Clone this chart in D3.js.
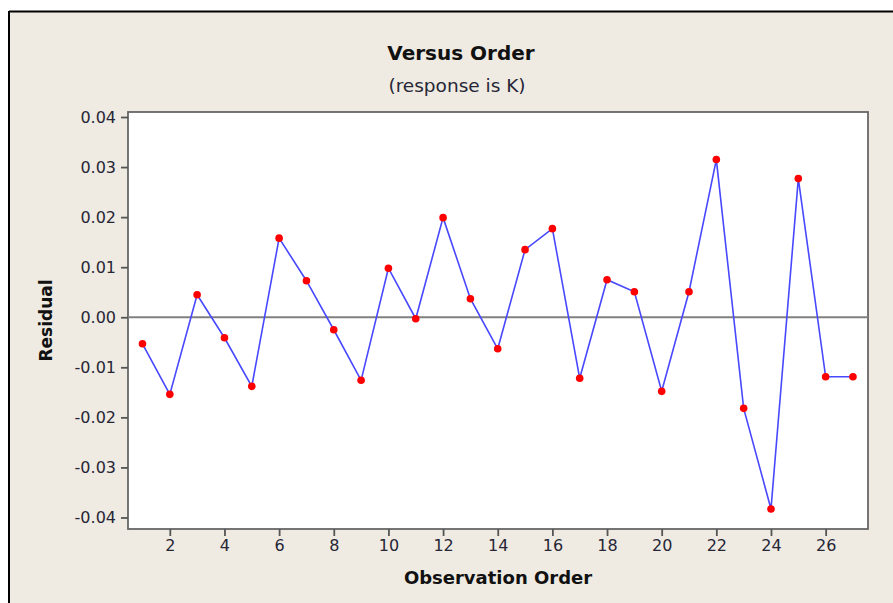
<!DOCTYPE html>
<html>
<head>
<meta charset="utf-8">
<script src="https://cdn.jsdelivr.net/npm/d3@7"></script>
<style>
  html, body { margin: 0; padding: 0; background: #ffffff; }
  svg { display: block; }
</style>
</head>
<body>
<svg id="chart" width="893" height="603"></svg>
<script>
// ---- data ----
const observationOrder = [1,2,3,4,5,6,7,8,9,10,11,12,13,14,15,16,17,18,19,20,21,22,23,24,25,26,27];
const residuals = [-0.0053,-0.0154,0.0045,-0.0041,-0.0138,0.0158,0.0073,-0.0025,-0.0126,0.0098,-0.0003,
                   0.0199,0.0037,-0.0063,0.0135,0.0177,-0.0122,0.0075,0.0051,-0.0148,0.0051,0.0315,
                   -0.0182,-0.0383,0.0277,-0.0119,-0.0119];
const xTicks = [2,4,6,8,10,12,14,16,18,20,22,24,26];
const yTicks = [-0.04,-0.03,-0.02,-0.01,0.00,0.01,0.02,0.03,0.04];
const titleText = "Versus Order";
const subtitleText = "(response is K)";
const xLabelText = "Observation Order";
const yLabelText = "Residual";

// ---- layout ----
const svg = d3.select("#chart");
const W = 893, H = 603;
const plot = {left: 128, right: 868, top: 112, bottom: 529};
const font = "'DejaVu Sans', Verdana, sans-serif";
const textColor = "#262636";

// background panel with black top/left frame
svg.append("rect").attr("x", 9).attr("y", 11).attr("width", W).attr("height", H)
   .attr("fill", "#efebe2");
svg.append("line").attr("x1", 9).attr("x2", W).attr("y1", 11.5).attr("y2", 11.5)
   .attr("stroke", "#000").attr("stroke-width", 2);
svg.append("line").attr("x1", 9).attr("x2", 9).attr("y1", 11).attr("y2", H)
   .attr("stroke", "#000").attr("stroke-width", 2);

const x = d3.scaleLinear().domain([0.47, 27.55]).range([plot.left, plot.right]);
const y = d3.scaleLinear().domain([-0.0423, 0.041]).range([plot.bottom, plot.top]);

// plot area
svg.append("rect")
   .attr("x", plot.left).attr("y", plot.top)
   .attr("width", plot.right - plot.left).attr("height", plot.bottom - plot.top)
   .attr("fill", "#ffffff").attr("stroke", "#666").attr("stroke-width", 1.8);

// axes
const fmtY = d => d3.format(".2f")(d).replace("\u2212", "-");
const yAxis = svg.append("g")
   .attr("transform", `translate(${plot.left},0)`)
   .call(d3.axisLeft(y).tickValues(yTicks).tickFormat(fmtY).tickSize(7).tickPadding(5));
const xAxis = svg.append("g")
   .attr("transform", `translate(0,${plot.bottom})`)
   .call(d3.axisBottom(x).tickValues(xTicks).tickFormat(d3.format("d")).tickSize(7).tickPadding(4));

[xAxis, yAxis].forEach(g => {
  g.select(".domain").remove();
  g.selectAll(".tick line").attr("stroke", "#555").attr("stroke-width", 1.8);
  g.selectAll(".tick text").attr("fill", textColor)
    .style("font-family", font).style("font-size", "16px");
});

// zero reference line
svg.append("line")
   .attr("x1", plot.left).attr("x2", plot.right)
   .attr("y1", y(0)).attr("y2", y(0))
   .attr("stroke", "#808080").attr("stroke-width", 2.2);

// data line
const pts = observationOrder.map((o, i) => ({o, r: residuals[i]}));
svg.append("path")
   .datum(pts)
   .attr("fill", "none")
   .attr("stroke", "#4848ff")
   .attr("stroke-width", 1.6)
   .attr("d", d3.line().x(d => x(d.o)).y(d => y(d.r)));

svg.append("g").selectAll("circle")
   .data(pts).enter().append("circle")
   .attr("cx", d => x(d.o)).attr("cy", d => y(d.r))
   .attr("r", 3.8).attr("fill", "#ff0000");

// titles
svg.append("text").attr("x", 461).attr("y", 60)
   .attr("text-anchor", "middle").attr("fill", "#111")
   .style("font-family", font).style("font-weight", "bold").style("font-size", "20px")
   .text(titleText);
svg.append("text").attr("x", 457).attr("y", 92)
   .attr("text-anchor", "middle").attr("fill", textColor)
   .style("font-family", font).style("font-size", "18.5px")
   .text(subtitleText);
svg.append("text").attr("x", (plot.left + plot.right) / 2).attr("y", 584)
   .attr("text-anchor", "middle").attr("fill", "#111")
   .style("font-family", font).style("font-weight", "bold").style("font-size", "18px")
   .text(xLabelText);
svg.append("text")
   .attr("transform", `translate(51.5,${(plot.top + plot.bottom) / 2}) rotate(-90)`)
   .attr("text-anchor", "middle").attr("fill", "#111")
   .style("font-family", font).style("font-weight", "bold").style("font-size", "17px")
   .text(yLabelText);
</script>
</body>
</html>
